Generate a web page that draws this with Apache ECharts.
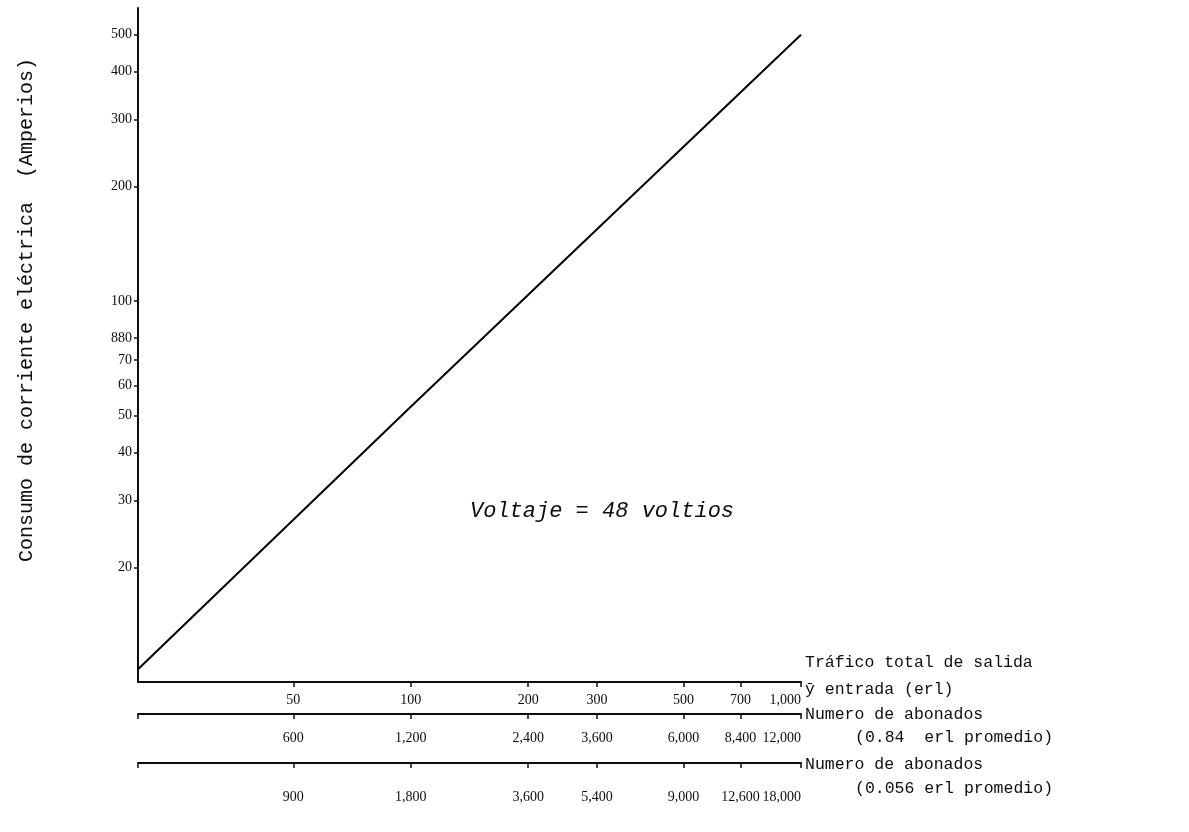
<!DOCTYPE html>
<html>
<head>
<meta charset="utf-8">
<script src="https://cdn.jsdelivr.net/npm/echarts@6/dist/echarts.min.js"></script>
<style>
  html, body { margin: 0; padding: 0; background: #fff; }
  #chart { width: 1189px; height: 832px; }
</style>
</head>
<body>
<div id="chart"></div>
<script>
// Total traffic (erl) against current drawn from the exchange (A)
const erlValues = [20, 100, 1000];
const ampValues = [10.8, 52.8, 500];

// Current axis ticks and their printed labels
const ampTickValues = [20, 30, 40, 50, 60, 70, 80, 100, 200, 300, 400, 500];
const ampTickLabels = ['20', '30', '40', '50', '60', '70', '880', '100', '200', '300', '400', '500'];

// Traffic axis ticks
const erlTicks = [50, 100, 200, 300, 500, 700, 1000];
// Subscriber counts at 0.084 erl average
const subsTicksA = [600, 1200, 2400, 3600, 6000, 8400, 12000];
// Subscriber counts at 0.056 erl average
const subsTicksB = [900, 1800, 3600, 5400, 9000, 12600, 18000];

const INK = '#0d0d0d';
const serif = 'Liberation Serif';
const mono = 'Liberation Mono';

const fmtNum = v => Math.round(v).toLocaleString('en-US');

function bottomAxis(min, max, offset, ticks, margin) {
  return {
    type: 'log',
    logBase: 10,
    min: min,
    max: max,
    position: 'bottom',
    offset: offset,
    gridIndex: 0,
    axisLine: { show: true, lineStyle: { color: INK, width: 2 } },
    axisTick: { show: true, length: 5, lineStyle: { color: INK, width: 1.5 },
                customValues: offset > 0 ? [min].concat(ticks) : ticks },
    axisLabel: { show: true, customValues: ticks, formatter: fmtNum, margin: margin,
                 alignMaxLabel: 'right',
                 color: INK, fontFamily: serif, fontSize: 14 },
    splitLine: { show: false },
    minorTick: { show: false }
  };
}

const chart = echarts.init(document.getElementById('chart'), null, { renderer: 'canvas' });

chart.setOption({
  animation: false,
  backgroundColor: '#fff',
  grid: { left: 138, right: 388, top: 8, bottom: 150, containLabel: false },
  xAxis: [
    bottomAxis(20, 1000, 0, erlTicks, 11),
    bottomAxis(240, 12000, 32, subsTicksA, 17),
    bottomAxis(360, 18000, 81, subsTicksB, 27)
  ],
  yAxis: {
    type: 'log',
    logBase: 10,
    min: 10,
    max: 588,
    axisLine: { show: true, lineStyle: { color: INK, width: 2 } },
    axisTick: { show: true, length: 4, lineStyle: { color: INK, width: 1.5 },
                customValues: ampTickValues },
    axisLabel: {
      show: true,
      customValues: ampTickValues,
      margin: 6,
      color: INK, fontFamily: serif, fontSize: 14,
      formatter: v => {
        const i = ampTickValues.indexOf(Math.round(v));
        return i >= 0 ? ampTickLabels[i] : '';
      }
    },
    splitLine: { show: false },
    minorTick: { show: false }
  },
  series: [{
    type: 'line',
    xAxisIndex: 0,
    yAxisIndex: 0,
    data: erlValues.map((x, i) => [x, ampValues[i]]),
    showSymbol: false,
    smooth: false,
    lineStyle: { color: '#000', width: 2 }
  }],
  graphic: [
    { type: 'text', x: 27, y: 310, rotation: Math.PI / 2,
      style: { text: 'Consumo de corriente eléctrica  (Amperios)', fill: INK,
               font: '20px "' + mono + '"', align: 'center', verticalAlign: 'middle' } },
    { type: 'text', x: 470, y: 511,
      style: { text: 'Voltaje = 48 voltios', fill: INK,
               font: 'italic 22px "' + mono + '"', align: 'left', verticalAlign: 'middle' } },
    { type: 'text', x: 805, y: 663,
      style: { text: 'Tráfico total de salida', fill: INK,
               font: '16.5px "' + mono + '"', align: 'left', verticalAlign: 'middle' } },
    { type: 'text', x: 805, y: 690,
      style: { text: 'ȳ entrada (erl)', fill: INK,
               font: '16.5px "' + mono + '"', align: 'left', verticalAlign: 'middle' } },
    { type: 'text', x: 805, y: 715,
      style: { text: 'Numero de abonados', fill: INK,
               font: '16.5px "' + mono + '"', align: 'left', verticalAlign: 'middle' } },
    { type: 'text', x: 855, y: 738,
      style: { text: '(0.84  erl promedio)', fill: INK,
               font: '16.5px "' + mono + '"', align: 'left', verticalAlign: 'middle' } },
    { type: 'text', x: 805, y: 765,
      style: { text: 'Numero de abonados', fill: INK,
               font: '16.5px "' + mono + '"', align: 'left', verticalAlign: 'middle' } },
    { type: 'text', x: 855, y: 789,
      style: { text: '(0.056 erl promedio)', fill: INK,
               font: '16.5px "' + mono + '"', align: 'left', verticalAlign: 'middle' } }
  ]
});
</script>
</body>
</html>
